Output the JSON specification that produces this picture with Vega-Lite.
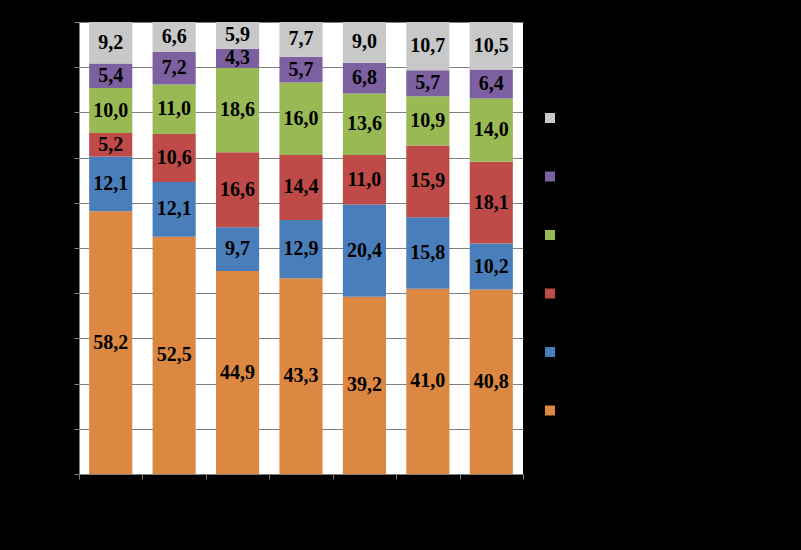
{
  "$schema": "https://vega.github.io/schema/vega-lite/v6.json",
  "width": 444,
  "height": 452,
  "autosize": {"type": "none"},
  "padding": {"left": 79, "top": 22, "right": 278, "bottom": 76},
  "background": "#000000",
  "config": {
    "view": {"fill": "#FFFFFF", "stroke": null},
    "axisY": {
      "title": null, "format": "%", "values": [0, 0.1, 0.2, 0.3, 0.4, 0.5, 0.6, 0.7, 0.8, 0.9, 1],
      "labelColor": "#000000", "labelFontSize": 12,
      "domainColor": "#808080", "tickColor": "#808080", "tickSize": 5,
      "grid": true, "gridColor": "#808080", "gridWidth": 1, "gridOpacity": 1
    },
    "locale": {"number": {"decimal": ",", "thousands": " ", "grouping": [3], "currency": ["", ""]}}
  },
  "data": {
    "values": [
      {"group": "1", "series": "S1", "order": 1, "value": 58.2},
      {"group": "1", "series": "S2", "order": 2, "value": 12.1},
      {"group": "1", "series": "S3", "order": 3, "value": 5.2},
      {"group": "1", "series": "S4", "order": 4, "value": 10.0},
      {"group": "1", "series": "S5", "order": 5, "value": 5.4},
      {"group": "1", "series": "S6", "order": 6, "value": 9.2},
      {"group": "2", "series": "S1", "order": 1, "value": 52.5},
      {"group": "2", "series": "S2", "order": 2, "value": 12.1},
      {"group": "2", "series": "S3", "order": 3, "value": 10.6},
      {"group": "2", "series": "S4", "order": 4, "value": 11.0},
      {"group": "2", "series": "S5", "order": 5, "value": 7.2},
      {"group": "2", "series": "S6", "order": 6, "value": 6.6},
      {"group": "3", "series": "S1", "order": 1, "value": 44.9},
      {"group": "3", "series": "S2", "order": 2, "value": 9.7},
      {"group": "3", "series": "S3", "order": 3, "value": 16.6},
      {"group": "3", "series": "S4", "order": 4, "value": 18.6},
      {"group": "3", "series": "S5", "order": 5, "value": 4.3},
      {"group": "3", "series": "S6", "order": 6, "value": 5.9},
      {"group": "4", "series": "S1", "order": 1, "value": 43.3},
      {"group": "4", "series": "S2", "order": 2, "value": 12.9},
      {"group": "4", "series": "S3", "order": 3, "value": 14.4},
      {"group": "4", "series": "S4", "order": 4, "value": 16.0},
      {"group": "4", "series": "S5", "order": 5, "value": 5.7},
      {"group": "4", "series": "S6", "order": 6, "value": 7.7},
      {"group": "5", "series": "S1", "order": 1, "value": 39.2},
      {"group": "5", "series": "S2", "order": 2, "value": 20.4},
      {"group": "5", "series": "S3", "order": 3, "value": 11.0},
      {"group": "5", "series": "S4", "order": 4, "value": 13.6},
      {"group": "5", "series": "S5", "order": 5, "value": 6.8},
      {"group": "5", "series": "S6", "order": 6, "value": 9.0},
      {"group": "6", "series": "S1", "order": 1, "value": 41.0},
      {"group": "6", "series": "S2", "order": 2, "value": 15.8},
      {"group": "6", "series": "S3", "order": 3, "value": 15.9},
      {"group": "6", "series": "S4", "order": 4, "value": 10.9},
      {"group": "6", "series": "S5", "order": 5, "value": 5.7},
      {"group": "6", "series": "S6", "order": 6, "value": 10.7},
      {"group": "7", "series": "S1", "order": 1, "value": 40.8},
      {"group": "7", "series": "S2", "order": 2, "value": 10.2},
      {"group": "7", "series": "S3", "order": 3, "value": 18.1},
      {"group": "7", "series": "S4", "order": 4, "value": 14.0},
      {"group": "7", "series": "S5", "order": 5, "value": 6.4},
      {"group": "7", "series": "S6", "order": 6, "value": 10.5}
    ]
  },
  "transform": [
    {"stack": "value", "groupby": ["group"], "sort": [{"field": "order", "order": "ascending"}], "offset": "normalize", "as": ["y0", "y1"]},
    {"calculate": "(datum.y0 + datum.y1) / 2", "as": "mid"}
  ],
  "encoding": {
    "x": {
      "field": "group", "type": "nominal", "sort": null,
      "scale": {"paddingInner": 0, "paddingOuter": 0},
      "axis": {
        "title": null, "labelAngle": 0, "labelColor": "#000000", "labelFontSize": 12,
        "domainColor": "#808080", "tickColor": "#808080", "tickBand": "extent", "tickSize": 5, "grid": false
      }
    }
  },
  "layer": [
    {
      "mark": {"type": "bar", "width": {"band": 0.68}},
      "encoding": {
        "y": {
          "field": "y0", "type": "quantitative", "title": null,
          "scale": {"domain": [0, 1]}
        },
        "y2": {"field": "y1"},
        "color": {
          "field": "series", "type": "nominal",
          "scale": {
            "domain": ["S6", "S5", "S4", "S3", "S2", "S1"],
            "range": ["#C8C8C8", "#7D60A0", "#98B954", "#BE4B48", "#4A7EBB", "#DC8843"]
          },
          "legend": {
            "title": null, "orient": "none", "legendX": 466, "legendY": 91,
            "direction": "vertical", "padding": 0,
            "symbolType": "square", "symbolSize": 100, "symbolStrokeWidth": 0,
            "labelColor": "#000000", "labelFontSize": 10, "rowPadding": 48.5
          }
        }
      }
    },
    {
      "mark": {"type": "text", "font": "Liberation Serif", "fontWeight": "bold", "fontSize": 20, "color": "#000000", "baseline": "middle", "align": "center"},
      "encoding": {
        "y": {"field": "mid", "type": "quantitative", "title": null},
        "text": {"field": "value", "type": "quantitative", "format": ".1f"}
      }
    }
  ]
}
